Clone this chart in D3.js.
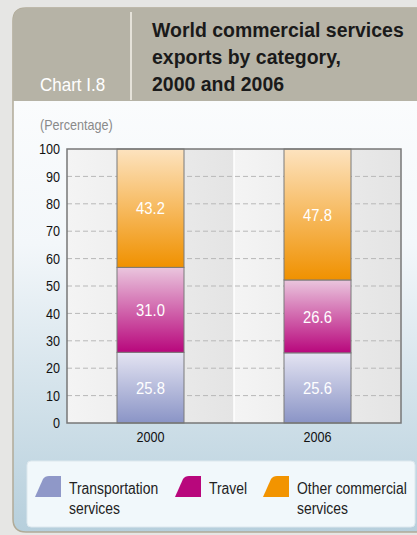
<!DOCTYPE html>
<html>
<head>
<meta charset="utf-8">
<script src="https://cdn.jsdelivr.net/npm/d3@7"></script>
<style>
	body { margin: 0; background: #e6e6e4; }
	svg { display: block; font-family: "Liberation Sans", Arial, sans-serif; }
</style>
</head>
<body>
<div id="chart"></div>
<script>
// data
const years = ["2000", "2006"];
const categories = ["Transportation services", "Travel", "Other commercial services"];
const transport = [25.8, 25.6];
const travel = [31.0, 26.6];
const other = [43.2, 47.8];
const yTicks = [0, 10, 20, 30, 40, 50, 60, 70, 80, 90, 100];

const width = 417, height = 535;
const plot = { left: 67, right: 401, top: 149, bottom: 423 };
const narrow = 0.87; // the original typeface is a condensed one

const colors = [
	{ top: "#e4e4f2", bottom: "#8a94c6", key: "#8f98c8" },
	{ top: "#eac6de", bottom: "#b8077c", key: "#b8077c" },
	{ top: "#fde3bf", bottom: "#f09100", key: "#f29400" }
];

const svg = d3.select("#chart").append("svg")
	.attr("width", width)
	.attr("height", height);

const defs = svg.append("defs");

const bodyGrad = defs.append("linearGradient").attr("id", "body").attr("x1", 0).attr("y1", 0).attr("x2", 0).attr("y2", 1);
bodyGrad.append("stop").attr("offset", 0).attr("stop-color", "#ffffff");
bodyGrad.append("stop").attr("offset", 0.45).attr("stop-color", "#f3f7fa");
bodyGrad.append("stop").attr("offset", 1).attr("stop-color", "#b6cfdc");

const bandGrad = defs.append("linearGradient").attr("id", "band").attr("x1", 0).attr("y1", 0).attr("x2", 1).attr("y2", 0);
bandGrad.append("stop").attr("offset", 0).attr("stop-color", "#f4f4f4");
bandGrad.append("stop").attr("offset", 1).attr("stop-color", "#e4e4e4");

colors.forEach((c, i) => {
	let g = defs.append("linearGradient").attr("id", "seg" + i).attr("x1", 0).attr("y1", 0).attr("x2", 0).attr("y2", 1);
	g.append("stop").attr("offset", 0).attr("stop-color", c.top);
	g.append("stop").attr("offset", 1).attr("stop-color", c.bottom);
});

// text squeezed horizontally, placed at (x, y)
function narrowText(parent, x, y, sx){
	return parent.append("text")
		.attr("transform", `translate(${x},${y}) scale(${sx},1)`);
}

// card
const cardX = 13, cardY = 8, r = 13;
svg.append("path")
	.attr("d", `M${cardX},${height - 3 - r} L${cardX},${cardY + r} Q${cardX},${cardY} ${cardX + r},${cardY} L${width + 5},${cardY} L${width + 5},${height - 3} L${cardX + r},${height - 3} Q${cardX},${height - 3} ${cardX},${height - 3 - r} Z`)
	.attr("fill", "url(#body)")
	.attr("stroke", "#b1ab98")
	.attr("stroke-width", 1.5);

// header band
svg.append("path")
	.attr("d", `M${cardX},101 L${cardX},${cardY + r} Q${cardX},${cardY} ${cardX + r},${cardY} L${width + 5},${cardY} L${width + 5},101 Z`)
	.attr("fill", "#b6b3a6");

svg.append("line")
	.attr("x1", 131).attr("x2", 131).attr("y1", 12).attr("y2", 100)
	.attr("stroke", "#f4f2ea").attr("stroke-width", 1.5);

narrowText(svg, 40, 91, 0.92)
	.attr("fill", "#ffffff")
	.attr("font-size", 18.5)
	.text("Chart I.8");

const titleLines = ["World commercial services", "exports by category,", "2000 and 2006"];
narrowText(svg, 152, 37, 0.95)
	.attr("fill", "#1a1a1a")
	.attr("font-size", 20.5)
	.attr("font-weight", "bold")
	.selectAll("tspan")
	.data(titleLines)
	.join("tspan")
	.attr("x", 0)
	.attr("dy", (d, i) => i == 0 ? 0 : 27)
	.text(d => d);

narrowText(svg, 40, 130, 0.9)
	.attr("fill", "#8a8a8a")
	.attr("font-size", 14)
	.text("(Percentage)");

// scales
const x = d3.scaleBand().domain(years).range([plot.left, plot.right]);
const y = d3.scaleLinear().domain([0, 100]).range([plot.bottom, plot.top]);
const barWidth = 67;

// background bands
svg.append("g").selectAll("rect")
	.data(years)
	.join("rect")
	.attr("x", d => x(d))
	.attr("y", plot.top)
	.attr("width", x.bandwidth())
	.attr("height", plot.bottom - plot.top)
	.attr("fill", "url(#band)");

svg.append("line")
	.attr("x1", x("2006")).attr("x2", x("2006"))
	.attr("y1", plot.top).attr("y2", plot.bottom)
	.attr("stroke", "#ffffff").attr("stroke-width", 1.5);

// gridlines
svg.append("g").selectAll("line")
	.data(yTicks.filter(t => t > 0 && t < 100))
	.join("line")
	.attr("x1", plot.left).attr("x2", plot.right)
	.attr("y1", d => y(d)).attr("y2", d => y(d))
	.attr("stroke", "#b8b8b8")
	.attr("stroke-dasharray", "5,3");

// y axis labels
const yAxis = svg.append("g")
	.attr("transform", `translate(${plot.left},0)`)
	.call(d3.axisLeft(y).tickValues(yTicks).tickSize(0).tickPadding(8));
yAxis.select(".domain").remove();
yAxis.selectAll("text")
	.attr("font-size", 14.5)
	.attr("fill", "#111")
	.attr("font-family", "Liberation Sans, Arial, sans-serif")
	.attr("transform", `scale(${narrow},1)`);

// x axis labels
const xAxis = svg.append("g")
	.attr("transform", `translate(0,${plot.bottom})`)
	.call(d3.axisBottom(x).tickSize(0).tickPadding(9));
xAxis.select(".domain").remove();
xAxis.selectAll("text")
	.attr("font-size", 14.5)
	.attr("fill", "#111")
	.attr("font-family", "Liberation Sans, Arial, sans-serif")
	.attr("transform", `scale(${narrow},1)`);

// stacked bars
const table = years.map((yr, i) => ({ year: yr, transport: transport[i], travel: travel[i], other: other[i] }));
const stack = d3.stack().keys(["transport", "travel", "other"]);
const series = stack(table);

const bars = svg.append("g");
series.forEach((s, si) => {
	s.forEach((d, i) => {
		let cx = x(years[i]) + x.bandwidth() / 2;
		bars.append("rect")
			.attr("x", cx - barWidth / 2)
			.attr("y", y(d[1]))
			.attr("width", barWidth)
			.attr("height", y(d[0]) - y(d[1]))
			.attr("fill", `url(#seg${si})`)
			.attr("stroke", "#7a7a7a")
			.attr("stroke-width", 1);
		narrowText(bars, cx, y((d[0] + d[1]) / 2), narrow)
			.attr("dy", "0.36em")
			.attr("text-anchor", "middle")
			.attr("fill", "#ffffff")
			.attr("font-size", 17)
			.text(d.data[s.key].toFixed(1));
	});
});

// plot frame
svg.append("rect")
	.attr("x", plot.left).attr("y", plot.top)
	.attr("width", plot.right - plot.left)
	.attr("height", plot.bottom - plot.top)
	.attr("fill", "none")
	.attr("stroke", "#777")
	.attr("stroke-width", 1.5);

// legend
svg.append("rect")
	.attr("x", 27).attr("y", 461)
	.attr("width", 388).attr("height", 66)
	.attr("rx", 4)
	.attr("fill", "#f1f8fb")
	.attr("stroke", "#dde8ee");

const legendPos = [
	{ sx: 35, tx: 69, lines: ["Transportation", "services"] },
	{ sx: 175, tx: 209, lines: ["Travel"] },
	{ sx: 263, tx: 297, lines: ["Other commercial", "services"] }
];

legendPos.forEach((p, i) => {
	svg.append("path")
		.attr("d", `M${p.sx},497 L${p.sx + 8},479 Q${p.sx + 10},476 ${p.sx + 14},476 L${p.sx + 26},476 L${p.sx + 26},497 Z`)
		.attr("fill", colors[i].key);
	narrowText(svg, p.tx, 494, narrow)
		.attr("fill", "#222")
		.attr("font-size", 16)
		.selectAll("tspan")
		.data(p.lines)
		.join("tspan")
		.attr("x", 0)
		.attr("dy", (d, j) => j == 0 ? 0 : 20)
		.text(d => d);
});
</script>
</body>
</html>
